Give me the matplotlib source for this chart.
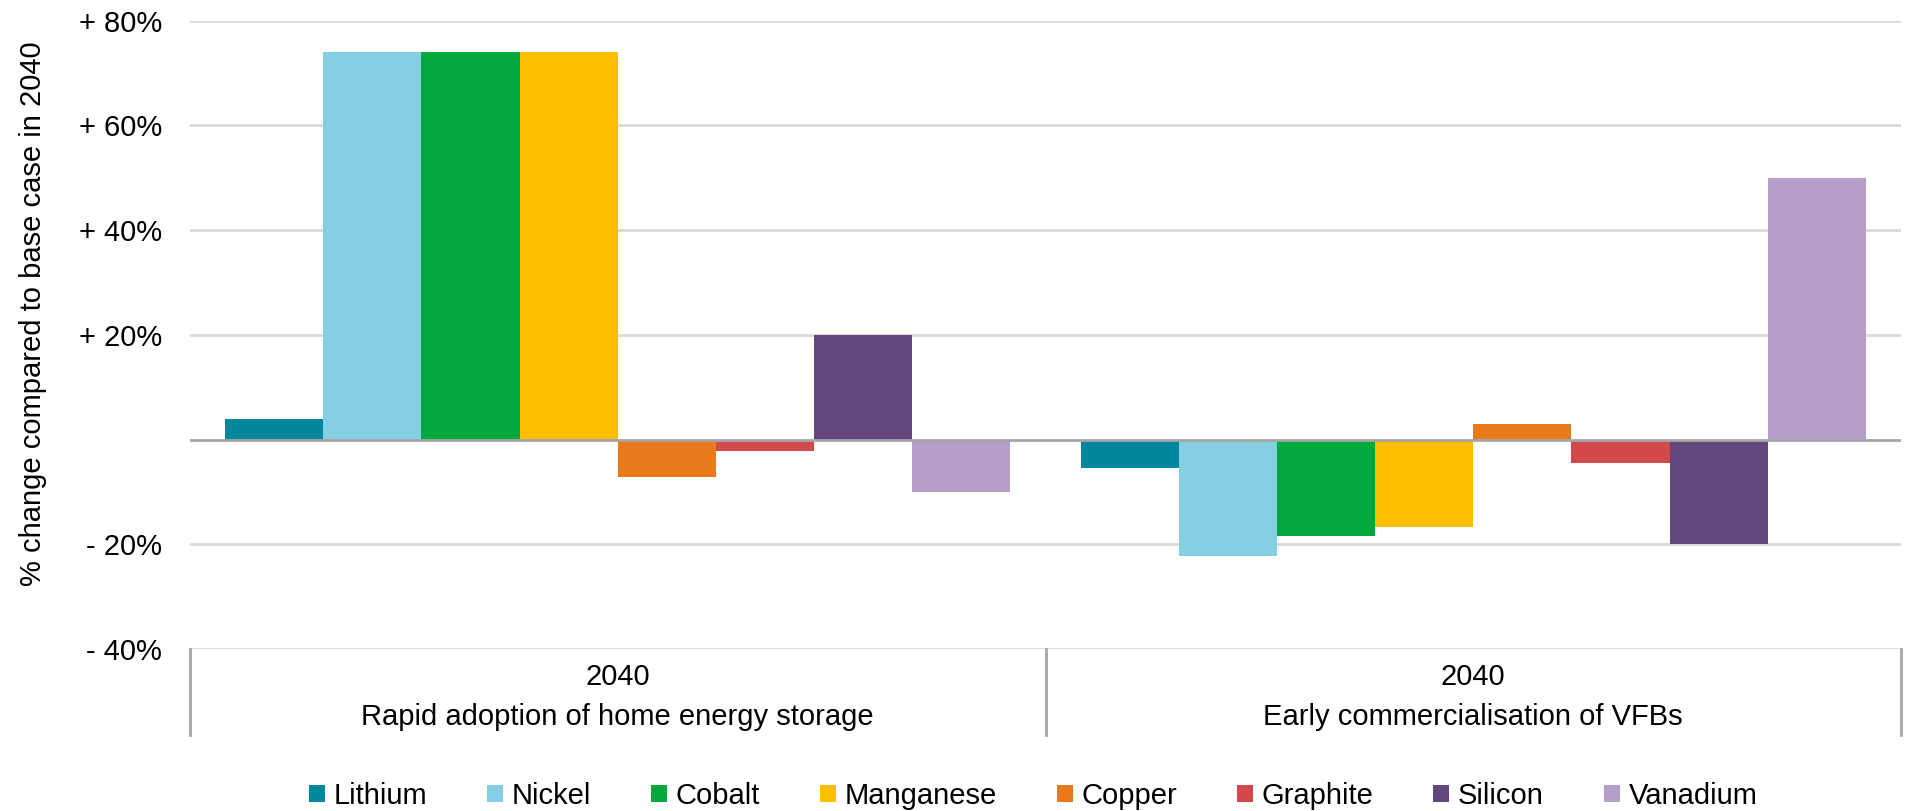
import numpy as np
import matplotlib
matplotlib.use('Agg')
import matplotlib.pyplot as plt
import matplotlib.transforms as mtransforms
from matplotlib.patches import Patch

plt.rcParams['font.family'] = ['Liberation Sans', 'DejaVu Sans']

# data
scenarios = ['2040\nRapid adoption of home energy storage',
             '2040\nEarly commercialisation of VFBs']
materials = ['Lithium', 'Nickel', 'Cobalt', 'Manganese', 'Copper',
             'Graphite', 'Silicon', 'Vanadium']
home_storage = [4.0, 74.0, 74.0, 74.0, -7.1, -2.2, 20.0, -10.0]
early_vfb = [-5.4, -22.2, -18.4, -16.7, 2.9, -4.5, -20.0, 50.0]
ytick_vals = [-40, -20, 20, 40, 60, 80]
ytick_labels = ['- 40%', '- 20%', '+ 20%', '+ 40%', '+ 60%', '+ 80%']

colors = ['#00879d', '#84cfe2', '#00a83e', '#fdbd00', '#e97a1b',
          '#d2484b', '#63477d', '#b59fca']

FS = 21

fig = plt.figure(figsize=(19.05, 8.11), dpi=100)
ax = fig.add_axes([190/1905, 1 - 649/811, 1711/1905, (649 - 20.7)/811])

x = np.arange(len(scenarios))
values = np.array([home_storage, early_vfb])
n = len(materials)
w = 0.918 / n
for i, m in enumerate(materials):
    ax.bar(x + (i - (n - 1) / 2) * w, values[:, i], width=w, color=colors[i],
           label=m, zorder=3, linewidth=0)

ax.set_xlim(-0.5, 1.5)
ax.set_ylim(-40, 80)
ax.set_yticks(ytick_vals)
ax.set_yticklabels(ytick_labels)
ax.tick_params(axis='y', length=0, pad=20, labelsize=FS)
for v in ytick_vals:
    ax.axhline(v, color='#d9d9d9', lw=2, zorder=1)
ax.axhline(0, color='#a6a6a6', lw=2, zorder=4)
for s in ax.spines.values():
    s.set_visible(False)

# category axis below
ax.set_xticks(x)
ax.set_xticklabels(scenarios, fontsize=FS, linespacing=1.55)
ax.tick_params(axis='x', length=0, pad=10)
trans = mtransforms.blended_transform_factory(ax.transData, ax.transAxes)
drop = (735 - 649) / (649 - 20.7)
for xv in [-0.5, 0.5, 1.5]:
    ax.plot([xv, xv], [0, -drop], color='#a6a6a6', lw=2, transform=trans,
            clip_on=False)

fig.text(33/1905, 1 - 314/811, '% change compared to base case in 2040',
         rotation=90, ha='center', va='center', fontsize=FS)

handles = [Patch(facecolor=c, label=m) for m, c in zip(materials, colors)]
fig.legend(handles=handles, loc='center', bbox_to_anchor=(1033/1905, 1 - 796/811),
           ncol=n, frameon=False, fontsize=FS, handlelength=0.55,
           handleheight=0.55, handletextpad=0.3, columnspacing=2.05,
           borderaxespad=0)

fig.savefig('out.png', dpi=100)
